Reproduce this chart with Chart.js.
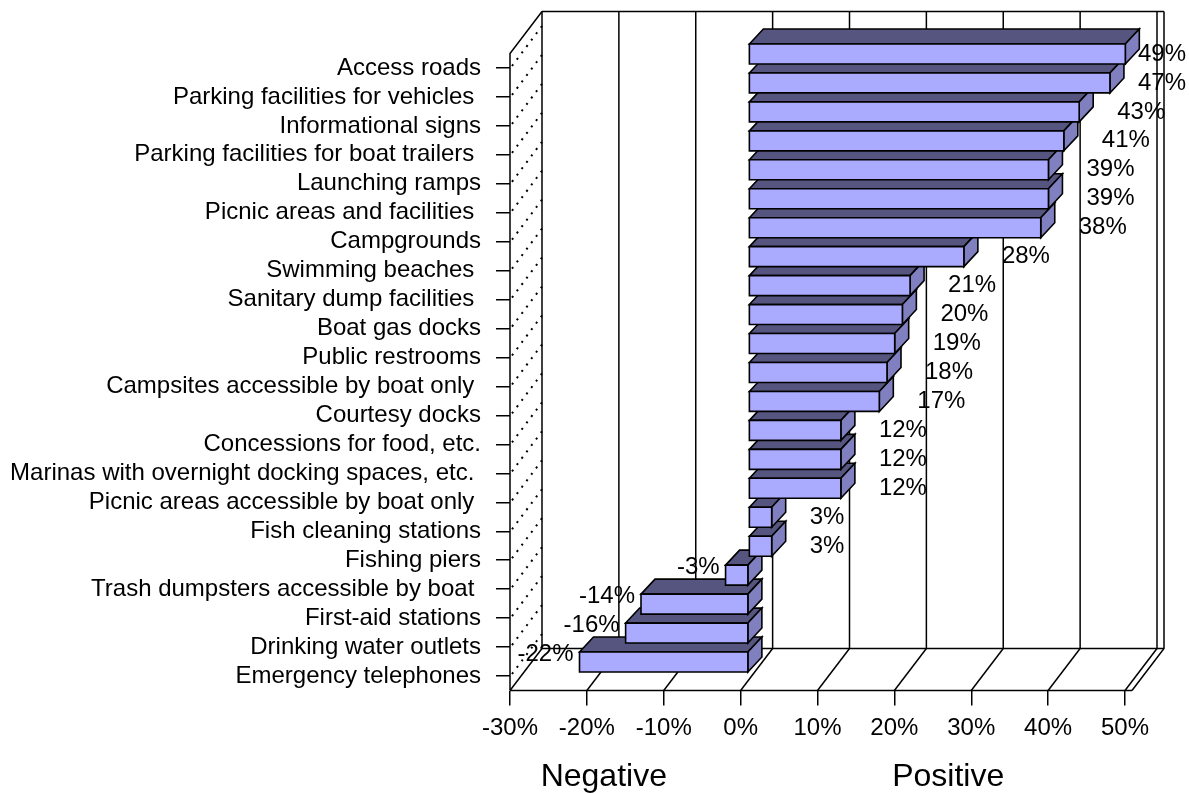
<!DOCTYPE html>
<html>
<head>
<meta charset="utf-8">
<script src="https://cdn.jsdelivr.net/npm/chart.js@4"></script>
<style>
  html, body { margin: 0; padding: 0; background: #fff; }
  canvas { display: block; }
</style>
</head>
<body>
<canvas id="myChart" width="1189" height="793"></canvas>
<script>
const categories = [
  "Access roads",
  "Parking facilities for vehicles ",
  "Informational signs",
  "Parking facilities for boat trailers ",
  "Launching ramps",
  "Picnic areas and facilities ",
  "Campgrounds",
  "Swimming beaches ",
  "Sanitary dump facilities ",
  "Boat gas docks",
  "Public restrooms",
  "Campsites accessible by boat only ",
  "Courtesy docks",
  "Concessions for food, etc.",
  "Marinas with overnight docking spaces, etc. ",
  "Picnic areas accessible by boat only ",
  "Fish cleaning stations",
  "Fishing piers",
  "Trash dumpsters accessible by boat ",
  "First-aid stations",
  "Drinking water outlets",
  "Emergency telephones"
];
const values = [49, 47, 43, 41, 39, 39, 38, 28, 21, 20, 19, 18, 17, 12, 12, 12, 3, 3, -3, -14, -16, -22];
const xTickValues = [-30, -20, -10, 0, 10, 20, 30, 40, 50];
const sideTitles = ["Negative", "Positive"];

const FONT = "Liberation Sans, Arial, sans-serif";
const WALL = { dx: 32, dy: -42 };   // depth of the box
const SHIFT = { dx: 8, dy: -14 };   // where the bars sit inside the box
const BAR = { dx: 14, dy: -15 };    // depth of each bar

const frame3d = {
  id: "frame3d",
  beforeDatasetsDraw(chart) {
    const { ctx, chartArea: a, scales: { x, y } } = chart;
    ctx.save();
    ctx.strokeStyle = "#000";
    ctx.lineWidth = 1.5;
    const bTop = a.top + WALL.dy, bBot = a.bottom + WALL.dy;
    // back wall grid lines + floor diagonals
    xTickValues.forEach(v => {
      const px = x.getPixelForValue(v) + WALL.dx;
      ctx.beginPath(); ctx.moveTo(px, bTop); ctx.lineTo(px, bBot); ctx.stroke();
      ctx.beginPath(); ctx.moveTo(px - WALL.dx, a.bottom); ctx.lineTo(px, bBot); ctx.stroke();
    });
    const xl = x.getPixelForValue(xTickValues[0]);
    const xr = x.getPixelForValue(xTickValues[xTickValues.length - 1]);
    ctx.beginPath(); ctx.moveTo(xl + WALL.dx, bTop); ctx.lineTo(xr + WALL.dx + 7, bTop); ctx.stroke();
    ctx.beginPath(); ctx.moveTo(xl + WALL.dx, bBot); ctx.lineTo(xr + WALL.dx + 7, bBot); ctx.stroke();
    // right edge
    ctx.beginPath(); ctx.moveTo(xr + WALL.dx + 7, bTop); ctx.lineTo(xr + WALL.dx + 7, bBot);
    ctx.lineTo(xr + 7, a.bottom); ctx.stroke();
    // floor front edge
    ctx.beginPath(); ctx.moveTo(xl, a.bottom); ctx.lineTo(xr + 7, a.bottom); ctx.stroke();
    // left wall
    ctx.beginPath(); ctx.moveTo(xl, a.bottom); ctx.lineTo(xl, a.top);
    ctx.lineTo(xl + WALL.dx, bTop); ctx.stroke();
    // dotted lines on left wall
    ctx.setLineDash([2, 6]);
    ctx.lineWidth = 2;
    categories.forEach((c, i) => {
      const py = y.getPixelForValue(i);
      ctx.beginPath(); ctx.moveTo(xl + 2, py - 2); ctx.lineTo(xl + WALL.dx, py + WALL.dy); ctx.stroke();
    });
    ctx.restore();
  },
  afterDatasetsDraw(chart) {
    const { ctx } = chart;
    const meta = chart.getDatasetMeta(0);
    ctx.save();
    ctx.strokeStyle = "#000";
    ctx.lineWidth = 1.6;
    for (let i = meta.data.length - 1; i >= 0; i--) {
      const p = meta.data[i].getProps(["x", "y", "base", "height"], true);
      const left = Math.min(p.x, p.base) + SHIFT.dx;
      const right = Math.max(p.x, p.base) + SHIFT.dx;
      const top = p.y - p.height / 2 + SHIFT.dy;
      const bot = p.y + p.height / 2 + SHIFT.dy;
      // top face
      ctx.beginPath();
      ctx.moveTo(left, top); ctx.lineTo(left + BAR.dx, top + BAR.dy);
      ctx.lineTo(right + BAR.dx, top + BAR.dy); ctx.lineTo(right, top); ctx.closePath();
      ctx.fillStyle = "#55557f"; ctx.fill(); ctx.stroke();
      // side face
      ctx.beginPath();
      ctx.moveTo(right, top); ctx.lineTo(right + BAR.dx, top + BAR.dy);
      ctx.lineTo(right + BAR.dx, bot + BAR.dy); ctx.lineTo(right, bot); ctx.closePath();
      ctx.fillStyle = "#8080c0"; ctx.fill(); ctx.stroke();
      // front face
      ctx.beginPath();
      ctx.rect(left, top, right - left, bot - top);
      ctx.fillStyle = "#aaaaff"; ctx.fill(); ctx.stroke();
    }
    // value labels
    ctx.fillStyle = "#000";
    ctx.font = "24px " + FONT;
    ctx.textBaseline = "middle";
    meta.data.forEach((el, i) => {
      const p = el.getProps(["x", "y", "base", "height"], true);
      const v = values[i];
      const txt = v + "%";
      const cy = p.y + SHIFT.dy;
      if (v >= 0) {
        ctx.textAlign = "left";
        const w = ctx.measureText(txt).width;
        const lx = Math.min(p.x + SHIFT.dx + BAR.dx + 24, chart.width - w - 3);
        ctx.fillText(txt, lx, cy);
      } else {
        ctx.textAlign = "right";
        ctx.fillText(txt, p.x + SHIFT.dx - 6, cy - 8);
      }
    });
    ctx.restore();
  },
  afterDraw(chart) {
    const { ctx, scales: { x } } = chart;
    ctx.save();
    ctx.fillStyle = "#000";
    ctx.font = "32px " + FONT;
    ctx.textAlign = "center";
    ctx.textBaseline = "middle";
    ctx.fillText(sideTitles[0], x.getPixelForValue(-17.8), 777);
    ctx.fillText(sideTitles[1], x.getPixelForValue(27), 777);
    ctx.restore();
  }
};

new Chart(document.getElementById("myChart"), {
  type: "bar",
  data: {
    labels: categories,
    datasets: [{
      data: values,
      backgroundColor: "rgba(0,0,0,0)",
      borderWidth: 0,
      barPercentage: 0.69,
      categoryPercentage: 1
    }]
  },
  options: {
    indexAxis: "y",
    responsive: false,
    animation: false,
    devicePixelRatio: 1,
    layout: { padding: { top: 53.5, right: 64, bottom: 0, left: 0 } },
    plugins: { legend: { display: false }, tooltip: { enabled: false } },
    scales: {
      x: {
        type: "linear",
        min: -30,
        max: 50,
        afterBuildTicks: s => { s.ticks = xTickValues.map(v => ({ value: v })); },
        afterFit: s => { s.height = 102.5; },
        grid: { drawOnChartArea: false, tickLength: 15, color: "#000", lineWidth: 1.5 },
        border: { display: false },
        ticks: {
          callback: v => v + "%",
          font: { family: FONT, size: 24 },
          color: "#000",
          padding: 8,
          maxRotation: 0,
          autoSkip: false
        }
      },
      y: {
        type: "category",
        offset: true,
        afterFit: s => { s.width = 510; },
        grid: { offset: false, drawOnChartArea: false, tickLength: 14, color: "#000", lineWidth: 1.5 },
        border: { display: false },
        ticks: {
          font: { family: FONT, size: 24 },
          color: "#000",
          padding: 15,
          autoSkip: false
        }
      }
    }
  },
  plugins: [frame3d]
});
</script>
</body>
</html>
